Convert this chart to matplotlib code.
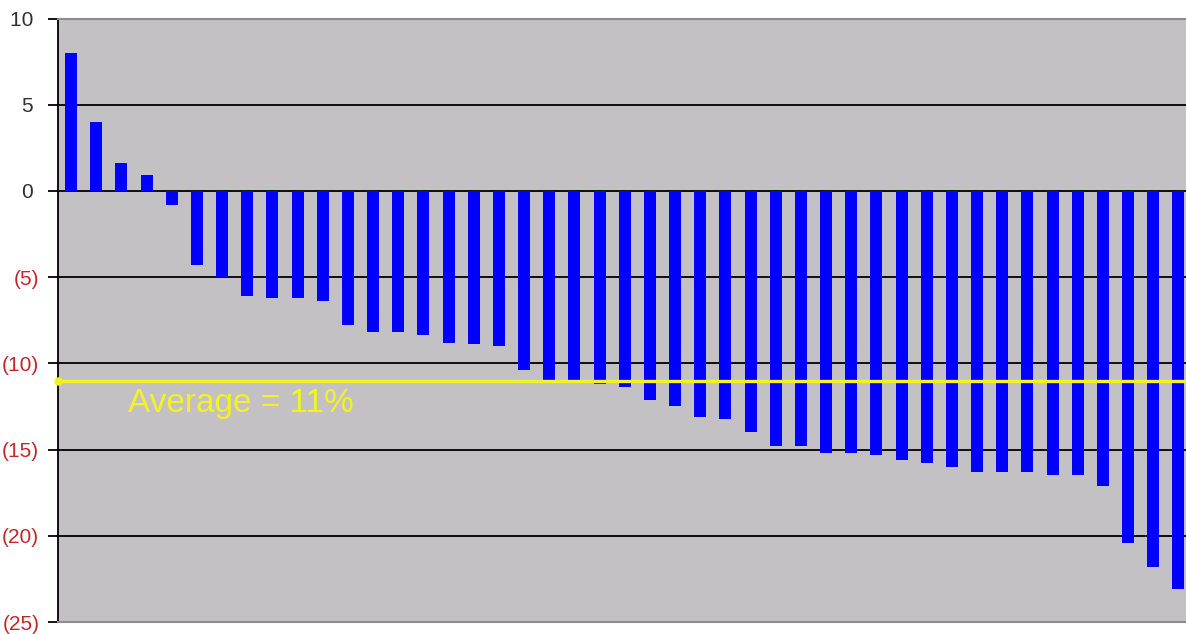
import matplotlib.pyplot as plt
import numpy as np

plt.rcParams['font.family'] = ['Liberation Sans', 'DejaVu Sans']

# returns per fund, sorted high to low
returns = [8.0, 4.0, 1.6, 0.95, -0.8, -4.3, -5.0, -6.1, -6.2, -6.2,
           -6.4, -7.8, -8.2, -8.2, -8.35, -8.8, -8.9, -9.0, -10.4, -11.0,
           -11.0, -11.2, -11.4, -12.1, -12.5, -13.1, -13.2, -14.0, -14.8, -14.8,
           -15.2, -15.2, -15.3, -15.6, -15.8, -16.0, -16.3, -16.3, -16.3, -16.5,
           -16.5, -17.1, -20.4, -21.8, -23.1]
average = -11.0
average_label = 'Average = 11%'

yticks = [10, 5, 0, -5, -10, -15, -20, -25]
# accounting style: positives leave room for the closing bracket
ytick_labels = ['10 ', '5 ', '0 ', '(5)', '(10)', '(15)', '(20)', '(25)']

fig = plt.figure(figsize=(11.86, 6.34), dpi=100)
ax = fig.add_axes([58 / 1186, 12 / 634, 1128 / 1186, 603.5 / 634])
ax.set_facecolor('#c4c1c4')

x = np.arange(len(returns))
ax.bar(x, returns, width=0.48, color='#0000ff', zorder=3)

ax.set_xlim(-0.52, 44.3)
ax.set_ylim(-25, 10)

# black gridlines; the 0 line doubles as the category axis
for t in yticks[1:-1]:
    ax.axhline(t, color='black', lw=1.3, zorder=2)

yellow = '#f2f224'
ax.plot([-0.52, 44.3], [average, average], color=yellow, lw=2.4,
        zorder=4, clip_on=False)
ax.plot([-0.52], [average], 'o', color=yellow, ms=5, zorder=5, clip_on=False)
ax.text(2.27, -12.83, average_label, color=yellow, fontsize=24,
        ha='left', va='baseline', zorder=5)

ax.set_xticks([])
ax.set_yticks(yticks)
ax.set_yticklabels(ytick_labels, fontsize=15)
for lbl, val in zip(ax.get_yticklabels(), yticks):
    lbl.set_color('#c0282a' if val < 0 else '#303030')
ax.tick_params(axis='y', length=7, width=1.3, color='black', pad=6.5)

ax.spines['left'].set_color('black')
ax.spines['left'].set_linewidth(1.3)
for s in ['top', 'bottom']:
    ax.spines[s].set_color('#8c8c8c')
    ax.spines[s].set_linewidth(1.5)
ax.spines['right'].set_visible(False)

fig.savefig('out.png', dpi=100)
